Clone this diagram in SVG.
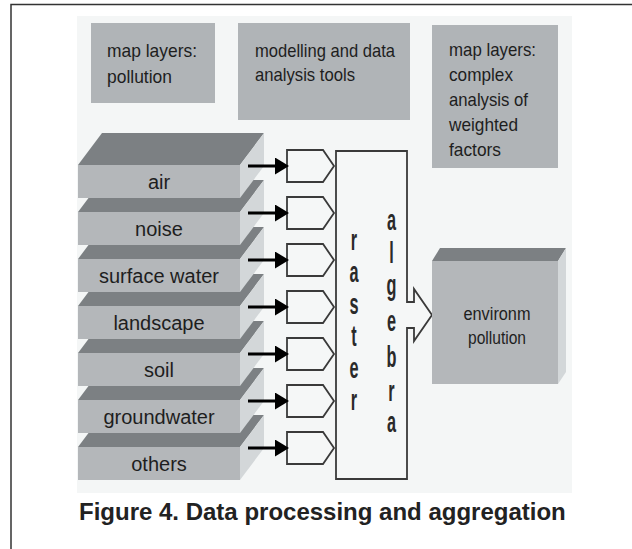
<svg xmlns="http://www.w3.org/2000/svg" width="632" height="549" viewBox="0 0 632 549">
<style>
.box{fill:#b0b4b7}
.top{fill:#7c8083}
.front{fill:#b4b7ba}
.side{fill:#d3d7d9}
.t{font-family:"Liberation Sans",Arial,sans-serif;fill:#1e1e1e}
.bt{font-size:19px}
.lt{font-size:20px;text-anchor:middle}
.port{fill:#f5f7f7;stroke:#3a3a3a;stroke-width:1.8}
.conn{stroke:#000;stroke-width:3;fill:none;marker-end:url(#ah)}
.ra{font-family:"Liberation Sans",Arial,sans-serif;font-weight:bold;font-size:13px;fill:#2a2a2a;text-anchor:middle}
</style>
<defs>
<marker id="ah" markerUnits="userSpaceOnUse" markerWidth="14" markerHeight="17" refX="6" refY="8.5" orient="auto">
<path d="M0,0 L14,8.5 L0,17 Z" fill="#000"/>
</marker>
</defs>
<rect x="0" y="0" width="632" height="549" fill="#fff"/>
<rect x="11" y="4.5" width="700" height="700" fill="none" stroke="#333" stroke-width="1.5"/>
<rect x="77" y="16" width="495" height="477" fill="#f4f6f6"/>

<g id="box-pollution">
<rect class="box" x="91" y="23" width="124" height="80"/>
<text class="t bt" x="107" y="57" textLength="90" lengthAdjust="spacingAndGlyphs">map layers:</text>
<text class="t bt" x="107" y="83" textLength="65" lengthAdjust="spacingAndGlyphs">pollution</text>
</g>
<g id="box-tools">
<rect class="box" x="238" y="23" width="172" height="97"/>
<text class="t bt" x="255" y="57" textLength="140" lengthAdjust="spacingAndGlyphs">modelling and data</text>
<text class="t bt" x="255" y="81" textLength="100" lengthAdjust="spacingAndGlyphs">analysis tools</text>
</g>
<g id="box-complex">
<rect class="box" x="432" y="25" width="126" height="143"/>
<text class="t bt" x="449" y="56" textLength="87" lengthAdjust="spacingAndGlyphs">map layers:</text>
<text class="t bt" x="449" y="81" textLength="64" lengthAdjust="spacingAndGlyphs">complex</text>
<text class="t bt" x="449" y="106" textLength="79" lengthAdjust="spacingAndGlyphs">analysis of</text>
<text class="t bt" x="449" y="131" textLength="69" lengthAdjust="spacingAndGlyphs">weighted</text>
<text class="t bt" x="449" y="156" textLength="52" lengthAdjust="spacingAndGlyphs">factors</text>
</g>

<g id="layer-others" transform="translate(0,282)">
<polygon class="top" points="78,165 240,165 264,133 102,133"/>
<polygon class="side" points="240,165 264,133 264,166 240,198"/>
<rect class="front" x="78" y="165" width="162" height="33"/>
<text class="t lt" x="159" y="189">others</text>
</g>
<g id="layer-groundwater" transform="translate(0,235)">
<polygon class="top" points="78,165 240,165 264,133 102,133"/>
<polygon class="side" points="240,165 264,133 264,166 240,198"/>
<rect class="front" x="78" y="165" width="162" height="33"/>
<text class="t lt" x="159" y="189">groundwater</text>
</g>
<g id="layer-soil" transform="translate(0,188)">
<polygon class="top" points="78,165 240,165 264,133 102,133"/>
<polygon class="side" points="240,165 264,133 264,166 240,198"/>
<rect class="front" x="78" y="165" width="162" height="33"/>
<text class="t lt" x="159" y="189">soil</text>
</g>
<g id="layer-landscape" transform="translate(0,141)">
<polygon class="top" points="78,165 240,165 264,133 102,133"/>
<polygon class="side" points="240,165 264,133 264,166 240,198"/>
<rect class="front" x="78" y="165" width="162" height="33"/>
<text class="t lt" x="159" y="189">landscape</text>
</g>
<g id="layer-surface-water" transform="translate(0,94)">
<polygon class="top" points="78,165 240,165 264,133 102,133"/>
<polygon class="side" points="240,165 264,133 264,166 240,198"/>
<rect class="front" x="78" y="165" width="162" height="33"/>
<text class="t lt" x="159" y="189">surface water</text>
</g>
<g id="layer-noise" transform="translate(0,47)">
<polygon class="top" points="78,165 240,165 264,133 102,133"/>
<polygon class="side" points="240,165 264,133 264,166 240,198"/>
<rect class="front" x="78" y="165" width="162" height="33"/>
<text class="t lt" x="159" y="189">noise</text>
</g>
<g id="layer-air">
<polygon class="top" points="78,165 240,165 264,133 102,133"/>
<polygon class="side" points="240,165 264,133 264,166 240,198"/>
<rect class="front" x="78" y="165" width="162" height="33"/>
<text class="t lt" x="159" y="189">air</text>
</g>

<g id="ports">
<polygon class="port" points="287,150 323,150 334,166 323,182 287,182"/>
<polygon class="port" points="287,197 323,197 334,213 323,229 287,229"/>
<polygon class="port" points="287,244 323,244 334,260 323,276 287,276"/>
<polygon class="port" points="287,291 323,291 334,307 323,323 287,323"/>
<polygon class="port" points="287,338 323,338 334,354 323,370 287,370"/>
<polygon class="port" points="287,385 323,385 334,401 323,417 287,417"/>
<polygon class="port" points="287,432 323,432 334,448 323,464 287,464"/>
</g>

<g id="raster-algebra">
<path d="M336,151 H407 V302 H414 V289 L432,315 L414,341 V328 H407 V479 H336 Z" fill="#f5f7f7" stroke="#3a3a3a" stroke-width="1.8"/>
<g transform="translate(354,0) scale(1.25,2.3)">
<text class="ra" x="0" y="108.7">r</text>
<text class="ra" x="0" y="122.61">a</text>
<text class="ra" x="0" y="136.52">s</text>
<text class="ra" x="0" y="150.43">t</text>
<text class="ra" x="0" y="164.35">e</text>
<text class="ra" x="0" y="178.26">r</text>
</g>
<g transform="translate(391.5,0) scale(1.25,2.3)">
<text class="ra" x="0" y="100">a</text>
<text class="ra" x="0" y="114.35">l</text>
<text class="ra" x="0" y="128.26">g</text>
<text class="ra" x="0" y="143.91">e</text>
<text class="ra" x="0" y="159.57">b</text>
<text class="ra" x="0" y="174.35">r</text>
<text class="ra" x="0" y="187.83">a</text>
</g>
</g>

<g id="environm-pollution">
<polygon class="top" points="432,261 558,261 566,248 440,248"/>
<polygon class="side" points="558,261 566,248 566,372 558,384"/>
<rect class="front" x="432" y="261" width="126" height="123"/>
<text class="t lt" x="497" y="320" textLength="67" lengthAdjust="spacingAndGlyphs" style="font-size:18px">environm</text>
<text class="t lt" x="497" y="344" textLength="58" lengthAdjust="spacingAndGlyphs" style="font-size:18px">pollution</text>
</g>

<g id="connectors">
<line class="conn" x1="248" y1="166" x2="281" y2="166"/>
<line class="conn" x1="248" y1="213" x2="281" y2="213"/>
<line class="conn" x1="248" y1="260" x2="281" y2="260"/>
<line class="conn" x1="248" y1="307" x2="281" y2="307"/>
<line class="conn" x1="248" y1="354" x2="281" y2="354"/>
<line class="conn" x1="248" y1="401" x2="281" y2="401"/>
<line class="conn" x1="248" y1="448" x2="281" y2="448"/>
</g>

<text x="79" y="520" font-family="'Liberation Sans',Arial,sans-serif" font-weight="bold" font-size="24" fill="#222">Figure 4. Data processing and aggregation</text>
</svg>
